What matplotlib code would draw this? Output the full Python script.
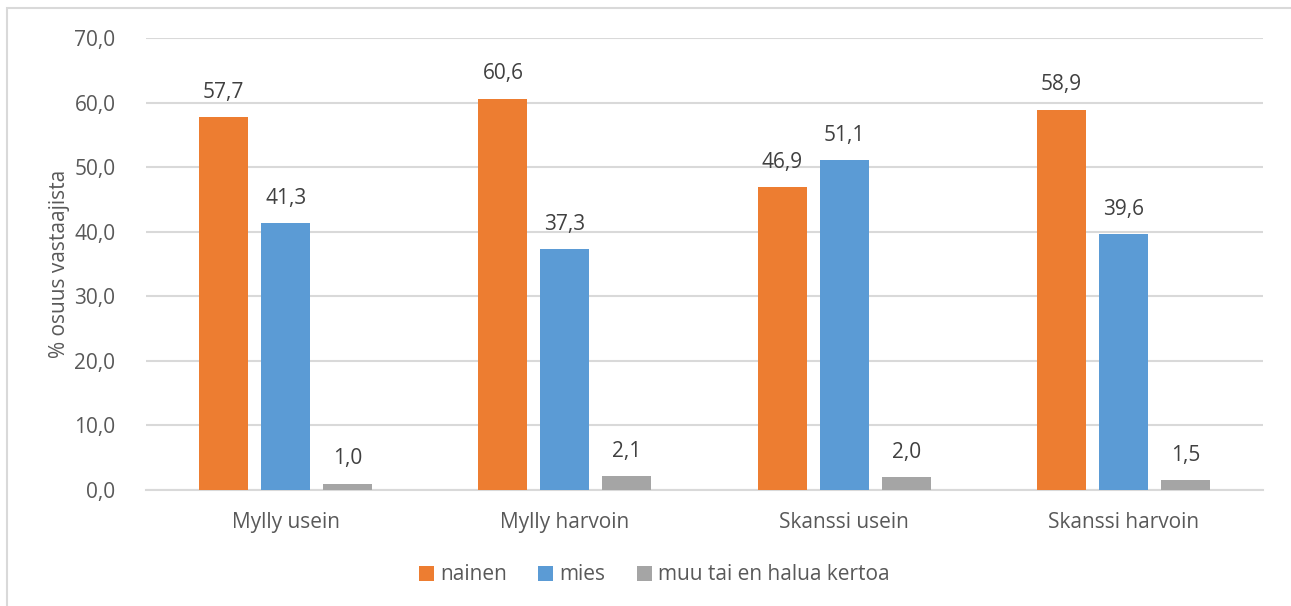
import matplotlib
matplotlib.use("Agg")
import matplotlib.pyplot as plt
from matplotlib.patches import Rectangle
import numpy as np

categories = ["Mylly usein", "Mylly harvoin", "Skanssi usein", "Skanssi harvoin"]
series_names = ["nainen", "mies", "muu tai en halua kertoa"]
nainen = [57.7, 60.6, 46.9, 58.9]
mies = [41.3, 37.3, 51.1, 39.6]
muu = [1.0, 2.1, 2.0, 1.5]
yticks = [0, 10, 20, 30, 40, 50, 60, 70]
ylabel = "% osuus vastaajista"

colors = ["#ED7D31", "#5B9BD5", "#A5A5A5"]
text_color = "#595959"
label_color = "#404040"
grid_color = "#D9D9D9"
fs = 15

plt.rcParams["font.family"] = ["Open Sans", "DejaVu Sans"]

W, H = 1291, 606
fig = plt.figure(figsize=(W / 100, H / 100), dpi=100)

# outer chart border
fig.patches.append(Rectangle((7 / W, -0.01), 1.2, 1 - 8 / H + 0.01,
                             transform=fig.transFigure, fill=False,
                             edgecolor="#D9D9D9", linewidth=1.5))

ax = fig.add_axes([146 / W, 1 - 490 / H, (1263 - 146) / W, (490 - 38) / H])

x = np.arange(len(categories))
width = 0.175
step = 0.222
all_series = [nainen, mies, muu]
for i, (vals, name, c) in enumerate(zip(all_series, series_names, colors)):
    pos = x + (i - 1) * step
    bars = ax.bar(pos, vals, width=width, color=c, label=name, zorder=3)
    for b, v in zip(bars, vals):
        ax.annotate(f"{v:.1f}".replace(".", ","),
                    xy=(b.get_x() + b.get_width() / 2, v),
                    xytext=(0, 17.8), textcoords="offset points",
                    ha="center", va="center", fontsize=fs,
                    color=label_color)

ax.set_xlim(-0.5, len(categories) - 0.5)
ax.set_ylim(0, 70)
ax.set_yticks(yticks)
ax.set_yticklabels([f"{t:.1f}".replace(".", ",") for t in yticks])
ax.set_xticks(x)
ax.set_xticklabels(categories)
ax.tick_params(axis="both", length=0, labelsize=fs, labelcolor=text_color)
ax.tick_params(axis="y", pad=22)
ax.tick_params(axis="x", pad=16)
ax.grid(axis="y", color=grid_color, linewidth=1.5, zorder=0)
for side in ["top", "right", "left"]:
    ax.spines[side].set_visible(False)
ax.spines["bottom"].set_color(grid_color)
ax.spines["bottom"].set_linewidth(1.5)

fig.text(60 / W, 1 - 264 / H, ylabel, rotation=90, ha="center", va="center",
         fontsize=fs, color=text_color)

leg = fig.legend(loc="center", bbox_to_anchor=(654 / W, 1 - 575 / H), ncol=3,
                 frameon=False, fontsize=fs, handlelength=0.72,
                 handleheight=0.72, handletextpad=0.3, columnspacing=1.5)
for t in leg.get_texts():
    t.set_color(text_color)

fig.savefig("out.png", dpi=100)
